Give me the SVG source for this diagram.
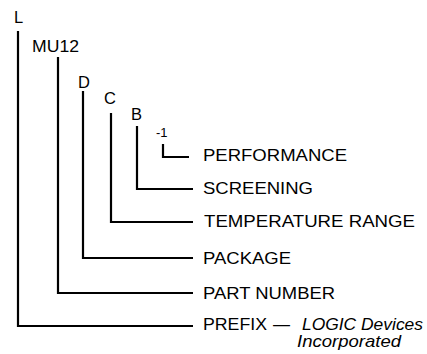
<svg xmlns="http://www.w3.org/2000/svg" width="427" height="354" viewBox="0 0 427 354">
<style>
.ln{fill:none;stroke:#000;stroke-width:2.2;stroke-linejoin:miter;stroke-linecap:butt}
text{font-family:"Liberation Sans",Arial,sans-serif;font-size:16.5px;fill:#000}
.it{font-style:italic}
</style>
<rect width="427" height="354" fill="#fff"/>
<g id="connectors">
<polyline class="ln" points="18,31 18,326 193,326"/>
<polyline class="ln" points="58,57 58,293 193,293"/>
<polyline class="ln" points="83,91 83,258 193,258"/>
<polyline class="ln" points="111,113 111,222 193,222"/>
<polyline class="ln" points="137,126 137,189 193,189"/>
<polyline class="ln" points="163,144 163,157 189,157"/>
</g>
<g id="code-L"><text x="14" y="23">L</text></g>
<g id="code-MU12"><text x="32" y="52" textLength="47" lengthAdjust="spacingAndGlyphs">MU12</text></g>
<g id="code-D"><text x="78" y="88">D</text></g>
<g id="code-C"><text x="104" y="104">C</text></g>
<g id="code-B"><text x="131" y="120">B</text></g>
<g id="code-1"><text x="156" y="137" style="font-size:13px">-1</text></g>
<g id="performance"><text x="203" y="161" textLength="144" lengthAdjust="spacingAndGlyphs">PERFORMANCE</text></g>
<g id="screening"><text x="203" y="194" textLength="110" lengthAdjust="spacingAndGlyphs">SCREENING</text></g>
<g id="temperature"><text x="204" y="227" textLength="211" lengthAdjust="spacingAndGlyphs">TEMPERATURE RANGE</text></g>
<g id="package"><text x="203" y="264" textLength="88" lengthAdjust="spacingAndGlyphs">PACKAGE</text></g>
<g id="part-number"><text x="203" y="299" textLength="132" lengthAdjust="spacingAndGlyphs">PART NUMBER</text></g>
<g id="prefix"><text x="203" y="330" textLength="64" lengthAdjust="spacingAndGlyphs">PREFIX</text><text x="273" y="330" textLength="17" lengthAdjust="spacingAndGlyphs">—</text><text class="it" x="302" y="330" textLength="121" lengthAdjust="spacingAndGlyphs">LOGIC Devices</text><text class="it" x="297" y="347" textLength="104" lengthAdjust="spacingAndGlyphs">Incorporated</text></g>
</svg>
